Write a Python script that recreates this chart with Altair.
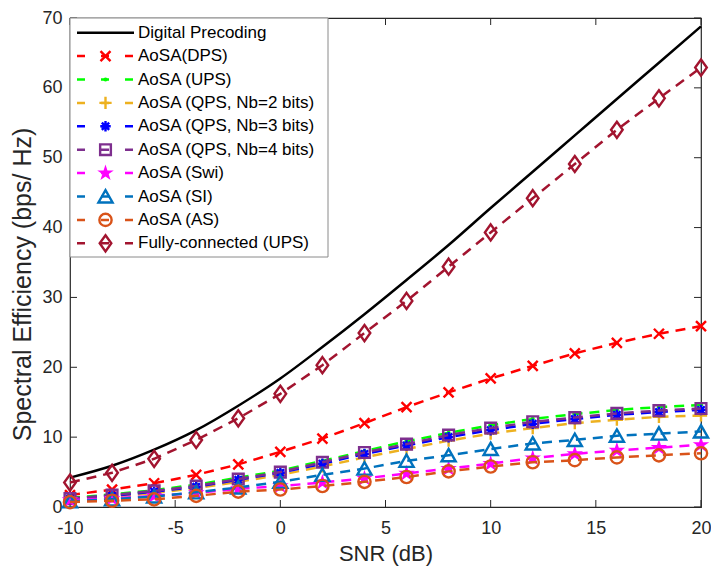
import altair as alt
import pandas as pd

# SNR sweep (dB)
snr = [-10, -8, -6, -4, -2, 0, 2, 4, 6, 8, 10, 12, 14, 16, 18, 20]

# Spectral efficiency (bps/Hz) per scheme
digital = [4.2, 5.9, 8.2, 11.0, 14.5, 18.4, 22.9, 27.6, 32.5, 37.5, 42.8, 48.0, 53.2, 58.4, 63.6, 68.8]
aosa_dps = [1.7, 2.5, 3.4, 4.6, 6.1, 7.9, 9.8, 12.0, 14.3, 16.4, 18.4, 20.2, 22.0, 23.5, 24.8, 25.9]
aosa_ups = [1.3, 1.8, 2.4, 3.2, 4.2, 5.2, 6.6, 8.0, 9.4, 10.6, 11.7, 12.6, 13.3, 13.9, 14.3, 14.6]
aosa_qps2 = [1.1, 1.5, 2.0, 2.7, 3.6, 4.6, 5.8, 7.1, 8.3, 9.5, 10.5, 11.3, 12.0, 12.5, 12.9, 13.1]
aosa_qps3 = [1.2, 1.6, 2.2, 2.9, 3.9, 4.9, 6.2, 7.6, 8.8, 10.0, 11.0, 11.9, 12.6, 13.2, 13.6, 13.9]
aosa_qps4 = [1.2, 1.7, 2.3, 3.0, 4.0, 5.0, 6.4, 7.8, 9.0, 10.3, 11.3, 12.2, 12.8, 13.4, 13.8, 14.1]
aosa_swi = [1.0, 1.2, 1.6, 2.0, 2.6, 3.0, 3.5, 4.1, 4.8, 5.5, 6.2, 7.0, 7.6, 8.1, 8.5, 8.9]
aosa_si = [0.8, 1.1, 1.5, 2.1, 2.8, 3.6, 4.6, 5.5, 6.6, 7.4, 8.3, 9.1, 9.6, 10.2, 10.5, 10.8]
aosa_as = [0.7, 0.9, 1.1, 1.6, 2.2, 2.5, 3.0, 3.6, 4.3, 5.1, 5.8, 6.4, 6.7, 7.1, 7.4, 7.7]
fully_ups = [3.5, 4.9, 6.9, 9.6, 12.7, 16.2, 20.3, 24.9, 29.5, 34.4, 39.3, 44.2, 49.1, 54.0, 58.5, 62.9]

names = [
    "Digital Precoding",
    "AoSA(DPS)",
    "AoSA (UPS)",
    "AoSA (QPS, Nb=2 bits)",
    "AoSA (QPS, Nb=3 bits)",
    "AoSA (QPS, Nb=4 bits)",
    "AoSA (Swi)",
    "AoSA (SI)",
    "AoSA (AS)",
    "Fully-connected (UPS)",
]
values = [digital, aosa_dps, aosa_ups, aosa_qps2, aosa_qps3, aosa_qps4,
          aosa_swi, aosa_si, aosa_as, fully_ups]
colors = ["#000000", "#FF0000", "#00FF00", "#EDB120", "#0000FF", "#7E2F8E",
          "#FF00FF", "#0072BD", "#D95319", "#A2142F"]

x_ticks = [-10, -5, 0, 5, 10, 15, 20]
y_ticks = [0, 10, 20, 30, 40, 50, 60, 70]

# marker glyphs (unit-square SVG paths or Vega symbol names)
CROSS = "M-1,-1L1,1M-1,1L1,-1"
PLUS = "M-1,0L1,0M0,-1L0,1"
ASTER = "M-1,0L1,0M0,-1L0,1M-0.7,-0.7L0.7,0.7M-0.7,0.7L0.7,-0.7"
STAR = ("M0,-1L0.225,-0.309L0.951,-0.309L0.363,0.118L0.588,0.809L0,0.382"
        "L-0.588,0.809L-0.363,0.118L-0.951,-0.309L-0.225,-0.309Z")
TRI = "M0,-0.9L1,0.85L-1,0.85Z"
DIAM = "M0,-1L0.72,0L0,1L-0.72,0Z"

# (shape, size, filled) per scheme; None = plain line
markers = [None, (CROSS, 100, False), ("circle", 18, True), (PLUS, 150, False),
           (ASTER, 110, False), ("square", 115, False), (STAR, 300, True),
           (TRI, 200, False), ("circle", 150, False), (DIAM, 260, False)]

W, H = 631, 489
FONT = "Liberation Sans"
INK = "#262626"

x_scale = alt.Scale(domain=[-10, 20], nice=False, zero=False)
y_scale = alt.Scale(domain=[0, 70], nice=False, zero=False)
x_axis = alt.Axis(values=x_ticks, title="SNR (dB)", grid=False, domain=False,
                  ticks=False, tickSize=0, labelPadding=12, titlePadding=6,
                  labelFlush=False, labelExpr="'' + datum.value")
y_axis = alt.Axis(values=y_ticks, title="Spectral Efficiency (bps/ Hz)", grid=False,
                  domain=False, ticks=False, tickSize=0, labelPadding=8,
                  labelFlush=False, labelExpr="'' + datum.value",
                  titleFontSize=25, titleX=-48, titleY=266,
                  titleBaseline="middle", titleAngle=270)
X = alt.X("snr:Q", scale=x_scale, axis=x_axis)
Y = alt.Y("se:Q", scale=y_scale, axis=y_axis)

layers = []

# inward tick marks on all four sides of the box
xt = pd.DataFrame({"snr": x_ticks})
yt = pd.DataFrame({"se": y_ticks})
TL = 7
layers.append(alt.Chart(xt).mark_rule(color=INK, strokeWidth=1).encode(
    x=X, y=alt.value(H), y2=alt.value(H - TL)))
layers.append(alt.Chart(xt).mark_rule(color=INK, strokeWidth=1).encode(
    x=X, y=alt.value(0), y2=alt.value(TL)))
layers.append(alt.Chart(yt).mark_rule(color=INK, strokeWidth=1).encode(
    y=Y, x=alt.value(0), x2=alt.value(TL)))
layers.append(alt.Chart(yt).mark_rule(color=INK, strokeWidth=1).encode(
    y=Y, x=alt.value(W), x2=alt.value(W - TL)))

# curves: line then markers, in plotting order
for name, vals, col, mk in zip(names, values, colors, markers):
    df = pd.DataFrame({"snr": snr, "se": vals})
    if mk is None:
        layers.append(alt.Chart(df).mark_line(
            color=col, strokeWidth=2.5, interpolate="monotone").encode(x=X, y=Y))
        continue
    layers.append(alt.Chart(df).mark_line(
        color=col, strokeWidth=2.5, strokeDash=[10, 7]).encode(x=X, y=Y))
    shape, size, filled = mk
    layers.append(alt.Chart(df).mark_point(
        shape=shape, size=size, filled=filled, color=col, opacity=1,
        strokeWidth=2.4).encode(x=X, y=Y))

# legend box in the upper-left corner
ROW0, ROWH = 14.7, 23.4
ly = alt.Y("ly:Q", scale=None, axis=None)
box = pd.DataFrame({"k": [0]})
layers.append(alt.Chart(box).mark_rect(
    fill="white", stroke="#8a8a8a", strokeWidth=1).encode(
    x=alt.value(0), x2=alt.value(258), y=alt.value(0), y2=alt.value(239)))

for i, (name, col, mk) in enumerate(zip(names, colors, markers)):
    row = pd.DataFrame({"name": [name], "idx": [i]})
    base = alt.Chart(row).transform_calculate(ly=f"{ROW0} + datum.idx * {ROWH}")
    if mk is None:
        layers.append(base.mark_rule(color=col, strokeWidth=2.5).encode(
            x=alt.value(7), x2=alt.value(64), y=ly))
        continue
    layers.append(base.mark_rule(color=col, strokeWidth=2.5, strokeDash=[8, 16]).encode(
        x=alt.value(7), x2=alt.value(64), y=ly))
    shape, size, filled = mk
    layers.append(base.mark_point(
        shape=shape, size=size, filled=filled, color=col, opacity=1,
        strokeWidth=2.4).encode(x=alt.value(35.5), y=ly))

legend_df = pd.DataFrame({"name": names, "idx": list(range(len(names)))})
layers.append(alt.Chart(legend_df).transform_calculate(
    ly=f"{ROW0} + datum.idx * {ROWH}").mark_text(
    align="left", baseline="middle", font=FONT, fontSize=17, color="#000000").encode(
    x=alt.value(68), y=ly, text="name:N"))

chart = alt.layer(*layers).properties(
    width=W, height=H,
    autosize=alt.AutoSizeParams(type="none"),
    padding={"left": 70, "top": 18, "right": 10, "bottom": 64},
).configure_view(
    stroke=INK, strokeWidth=1.2
).configure_axis(
    labelFont=FONT, titleFont=FONT, labelFontSize=18, titleFontSize=22,
    labelColor=INK, titleColor=INK, titleFontWeight="normal"
)

chart.save("out.html", embed_options={"renderer": "svg", "actions": False})
